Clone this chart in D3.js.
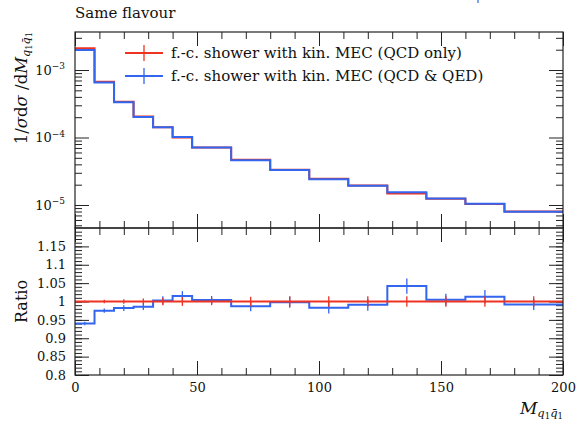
<!DOCTYPE html>
<html>
<head>
<meta charset="utf-8">
<script src="https://cdn.jsdelivr.net/npm/d3@7"></script>
<style>
    body { margin: 0; background: #fff; }
    text { font-family: "DejaVu Serif", serif; fill: #111; }
</style>
</head>
<body>
<svg id="chart" width="579" height="422"></svg>
<script>
//----------------------------------------------------------------
// Data
//----------------------------------------------------------------

// bin edges of M_{q1 q1bar}
const binEdges = [0, 8, 16, 24, 32, 40, 48, 64, 80, 96, 112, 128, 144, 160, 176, 200];

// 1/sigma dsigma/dM, QCD only (red)
const qcdValues = [2.10e-3, 6.72e-4, 3.40e-4, 2.04e-4, 1.42e-4, 1.00e-4, 7.10e-5, 4.67e-5,
    3.32e-5, 2.44e-5, 1.95e-5, 1.48e-5, 1.24e-5, 1.03e-5, 8.0e-6];

// 1/sigma dsigma/dM, QCD & QED (blue)
const qedValues = [1.98e-3, 6.55e-4, 3.34e-4, 2.01e-4, 1.42e-4, 1.015e-4, 7.13e-5, 4.61e-5,
    3.31e-5, 2.40e-5, 1.93e-5, 1.54e-5, 1.25e-5, 1.04e-5, 7.94e-6];

// ratios to the QCD only curve
const qcdRatio = [1, 1, 1, 1, 1, 1, 1, 1, 1, 1, 1, 1, 1, 1, 1];
const qedRatio = [0.940, 0.975, 0.982, 0.986, 1.003, 1.015, 1.004, 0.987,
    0.998, 0.983, 0.991, 1.042, 1.005, 1.013, 0.992];

// relative errors seen in the ratio panel
const qcdRelErr = [0.003, 0.005, 0.006, 0.008, 0.010, 0.012, 0.010, 0.013,
    0.014, 0.014, 0.014, 0.014, 0.014, 0.014, 0.014];
const qedRelErr = [0.005, 0.006, 0.008, 0.009, 0.011, 0.013, 0.011, 0.014,
    0.015, 0.016, 0.016, 0.020, 0.016, 0.018, 0.015];

// ticks
const xTicks = [0, 50, 100, 150, 200];
const xMinorTicks = d3.range(0, 201, 10);
const logTicks = [1e-5, 1e-4, 1e-3];
const logTickLabels = ["−5", "−4", "−3"];
const ratioTicks = [0.8, 0.85, 0.9, 0.95, 1, 1.05, 1.1, 1.15];
const ratioTickLabels = ["0.8", "0.85", "0.9", "0.95", "1", "1.05", "1.1", "1.15"];

const legendLabels = ["f.-c. shower with kin. MEC (QCD only)", "f.-c. shower with kin. MEC (QCD & QED)"];
const RED = "#ee3322";
const BLUE = "#3366ee";

//----------------------------------------------------------------
// Layout and scales
//----------------------------------------------------------------
const left = 75, right = 563;
const topY = 32, midY = 228, bottomY = 375;

const svg = d3.select("#chart");

const x = d3.scaleLinear([0, 200], [left, right]);
const yMain = d3.scaleLog([4.56e-6, 3.66e-3], [midY, topY]);
const yRatio = d3.scaleLinear([0.8, 1.2], [bottomY, midY]);

// minor log ticks 2..9 in each decade
const logMinorTicks = [];
[-6, -5, -4, -3].forEach(function (e) {
    for (let k = 2; k <= 9; k++) {
        const v = k * Math.pow(10, e);
        if (v > yMain.domain()[0] && v < yMain.domain()[1]) logMinorTicks.push(v);
    }
});
const ratioMinorTicks = d3.range(80, 120).map(d => d / 100);

//----------------------------------------------------------------
// Axes (ticks point inwards on all four sides)
//----------------------------------------------------------------
function tickAxis(axis, vals, size) {
    return axis.tickValues(vals).tickSize(size).tickSizeOuter(0).tickFormat("");
}

function drawAxis(gen, tx, ty) {
    const g = svg.append("g").attr("transform", "translate(" + tx + "," + ty + ")").call(gen);
    g.select(".domain").remove();
    g.selectAll("line").attr("stroke", "#222").attr("stroke-width", 1);
    return g;
}

// x ticks: top of main, bottom of main, top of ratio, bottom of ratio
drawAxis(tickAxis(d3.axisTop(x), xMinorTicks, -7), 0, topY);
drawAxis(tickAxis(d3.axisTop(x), xTicks, -14), 0, topY);
drawAxis(tickAxis(d3.axisBottom(x), xMinorTicks, -7), 0, midY);
drawAxis(tickAxis(d3.axisBottom(x), xTicks, -14), 0, midY);
drawAxis(tickAxis(d3.axisTop(x), xMinorTicks, -7), 0, midY);
drawAxis(tickAxis(d3.axisTop(x), xTicks, -14), 0, midY);
drawAxis(tickAxis(d3.axisBottom(x), xMinorTicks, -7), 0, bottomY);
const xAxisG = drawAxis(d3.axisBottom(x).tickValues(xTicks).tickSize(-14).tickSizeOuter(0).tickPadding(8), 0, bottomY);
xAxisG.selectAll("text").attr("font-size", 13).attr("font-family", "DejaVu Serif");

// log y axis
drawAxis(tickAxis(d3.axisLeft(yMain), logMinorTicks, -7), left, 0);
drawAxis(tickAxis(d3.axisRight(yMain), logMinorTicks, -7), right, 0);
drawAxis(tickAxis(d3.axisRight(yMain), logTicks, -14), right, 0);
const logG = drawAxis(d3.axisLeft(yMain).tickValues(logTicks).tickSize(-14).tickSizeOuter(0).tickPadding(10), left, 0);
logG.selectAll("text").each(function (d, i) {
    const t = d3.select(this).text("").attr("font-size", 13).attr("font-family", "DejaVu Serif");
    t.append("tspan").text("10");
    t.append("tspan").attr("font-size", 9).attr("dy", "-0.6em").text(logTickLabels[i]);
});

// ratio y axis
drawAxis(tickAxis(d3.axisLeft(yRatio), ratioMinorTicks, -7), left, 0);
drawAxis(tickAxis(d3.axisRight(yRatio), ratioMinorTicks, -7), right, 0);
drawAxis(tickAxis(d3.axisRight(yRatio), ratioTicks, -14), right, 0);
const ratioG = drawAxis(d3.axisLeft(yRatio).tickValues(ratioTicks).tickSize(-14).tickSizeOuter(0).tickPadding(9)
    .tickFormat((d, i) => ratioTickLabels[i]), left, 0);
ratioG.selectAll("text").attr("font-size", 13).attr("font-family", "DejaVu Serif");

//----------------------------------------------------------------
// Histograms
//----------------------------------------------------------------
function stepPath(values, yScale) {
    const pts = values.map((v, i) => [binEdges[i], v]);
    pts.push([binEdges[binEdges.length - 1], values[values.length - 1]]);
    return d3.line().x(d => x(d[0])).y(d => yScale(d[1])).curve(d3.curveStepAfter)(pts);
}

function drawHisto(values, yScale, color) {
    svg.append("path")
        .attr("d", stepPath(values, yScale))
        .attr("fill", "none")
        .attr("stroke", color)
        .attr("stroke-width", 2);
}

function drawErrors(ratio, relErr, color) {
    svg.append("g").selectAll("line").data(ratio).join("line")
        .attr("x1", (d, i) => x((binEdges[i] + binEdges[i + 1]) / 2))
        .attr("x2", (d, i) => x((binEdges[i] + binEdges[i + 1]) / 2))
        .attr("y1", (d, i) => yRatio(d * (1 - relErr[i])))
        .attr("y2", (d, i) => yRatio(d * (1 + relErr[i])))
        .attr("stroke", color)
        .attr("stroke-width", 1.3);
}

drawHisto(qcdValues, yMain, RED);
drawHisto(qedValues, yMain, BLUE);

drawHisto(qedRatio, yRatio, BLUE);
drawErrors(qedRatio, qedRelErr, BLUE);
drawHisto(qcdRatio, yRatio, RED);
drawErrors(qcdRatio, qcdRelErr, RED);

// frames
svg.append("rect").attr("x", left).attr("y", topY).attr("width", right - left).attr("height", midY - topY)
    .attr("fill", "none").attr("stroke", "#222").attr("stroke-width", 1.2);
svg.append("rect").attr("x", left).attr("y", midY).attr("width", right - left).attr("height", bottomY - midY)
    .attr("fill", "none").attr("stroke", "#222").attr("stroke-width", 1.2);

//----------------------------------------------------------------
// Legend
//----------------------------------------------------------------
[RED, BLUE].forEach(function (c, i) {
    const ly = 53 + i * 23;
    svg.append("line").attr("x1", 125).attr("x2", 163).attr("y1", ly).attr("y2", ly)
        .attr("stroke", c).attr("stroke-width", 2);
    svg.append("line").attr("x1", 144).attr("x2", 144).attr("y1", ly - 8).attr("y2", ly + 8)
        .attr("stroke", c).attr("stroke-width", 1.3);
    svg.append("text").attr("x", 171).attr("y", ly + 5).attr("font-size", 15).text(legendLabels[i]);
});

//----------------------------------------------------------------
// Titles and axis labels
//----------------------------------------------------------------
svg.append("text").attr("x", 75).attr("y", 18).attr("font-size", 15).text("Same flavour");

// M_{q1 q1bar} with subscripts
function massLabel(t, size) {
    t.append("tspan").attr("font-style", "italic").text("M");
    t.append("tspan").attr("font-style", "italic").attr("font-size", size * 0.68).attr("dy", size * 0.2).text("q");
    t.append("tspan").attr("font-size", size * 0.5).attr("dy", size * 0.1).text("1");
    t.append("tspan").attr("font-style", "italic").attr("font-size", size * 0.68).attr("dy", -size * 0.1).text("q̄");
    t.append("tspan").attr("font-size", size * 0.5).attr("dy", size * 0.1).text("1");
}

const yLab = svg.append("text").attr("transform", "translate(27," + topY + ") rotate(-90)")
    .attr("text-anchor", "end").attr("font-size", 16.5);
yLab.append("tspan").text("1/");
yLab.append("tspan").attr("font-style", "italic").text("σ");
yLab.append("tspan").text("d");
yLab.append("tspan").attr("font-style", "italic").text("σ");
yLab.append("tspan").text(" /d");
massLabel(yLab, 16.5);

svg.append("text").attr("transform", "translate(27," + yRatio(1) + ") rotate(-90)")
    .attr("text-anchor", "middle").attr("font-size", 16).text("Ratio");

const xLab = svg.append("text").attr("x", right).attr("y", 414).attr("text-anchor", "end").attr("font-size", 17);
massLabel(xLab, 17);

// small clipped blue mark at the top of the image
svg.append("line").attr("x1", 478).attr("x2", 478).attr("y1", 0).attr("y2", 3)
    .attr("stroke", BLUE).attr("stroke-width", 1.2);
</script>
</body>
</html>
